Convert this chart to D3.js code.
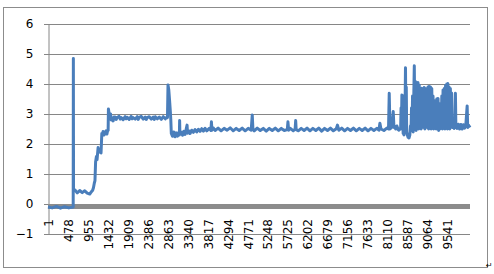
<!DOCTYPE html>
<html lang="en">
<head>
<meta charset="UTF-8">
<title>Line chart</title>
<script src="https://d3js.org/d3.v7.min.js"></script>
<style>
  body { margin: 0; background: #fff; }
  text { font-family: "DejaVu Sans", sans-serif; font-size: 12px; fill: #000; }
</style>
</head>
<body>
<script>
    var width = 494;
    var height = 274;

    // number of samples in the series
    var sampleCount = 10100;

    // category labels shown on the x axis
    var xTickLabels = [1, 478, 955, 1432, 1909, 2386, 2863, 3340, 3817, 4294, 4771,
        5248, 5725, 6202, 6679, 7156, 7633, 8110, 8587, 9064, 9541];
    var yTicks = [-1, 0, 1, 2, 3, 4, 5, 6];

    // [sample index, value]
    var warmup = [
        [1,-0.1],[100,-0.13],[200,-0.08],[300,-0.14],[400,-0.09],[500,-0.13],[604,-0.1],
        [608,4.85],[612,0.42],
        [650,0.46],[700,0.37],[760,0.45],[820,0.38],[880,0.44],[940,0.36],[1000,0.33],[1040,0.41],[1070,0.46],
        [1090,0.55],[1110,0.7],[1125,0.78],[1140,1.4],[1160,1.58],[1175,1.48],[1200,1.88],[1215,1.72],
        [1248,1.82],[1270,1.7],[1289,2.35],[1300,2.28],[1320,2.42],[1340,2.3],[1392,2.44],[1410,2.33],
        [1430,2.46],[1440,2.45],[1447,3.17],[1460,3.05],[1488,2.92],[1500,3.0],[1512,2.8],[1536,2.87],
        [1560,2.77],[1580,2.9]
    ];

    var plateau = [
        [1608,2.9],[1632,2.82],[1656,2.88],[1704,2.92],[1728,2.83],[1752,2.88],[1800,2.81],[1848,2.91],
        [1872,2.84],[1896,2.89],[1944,2.82],[1992,2.92],[2016,2.84],[2040,2.88],[2088,2.83],[2136,2.91],
        [2160,2.82],[2184,2.89],[2232,2.92],[2280,2.83],[2328,2.9],[2352,2.82],[2376,2.88],[2424,2.91],
        [2472,2.83],[2520,2.9],[2544,2.82],[2568,2.91],[2616,2.84],[2664,2.9],[2712,2.82],[2760,2.91],
        [2808,2.84],[2840,2.89],[2860,2.88],
        [2873,3.97],[2892,3.8],[2911,3.45],[2928,3.1],[2940,2.8],[2952,2.35]
    ];

    var settle = [
        [2980,2.26],[3010,2.4],[3040,2.24],[3070,2.37],[3100,2.26],[3130,2.38],[3145,2.3],[3151,2.78],
        [3158,2.32],[3190,2.4],[3220,2.29],[3250,2.42],[3280,2.32],[3329,2.63],[3340,2.36],[3370,2.44],
        [3400,2.35],[3440,2.46],[3480,2.39],[3520,2.48],[3560,2.4],[3600,2.49],[3640,2.42],[3680,2.51],
        [3720,2.43],[3760,2.52],[3800,2.44],[3860,2.52],[3900,2.45],[3912,2.74],[3925,2.46],[3960,2.53]
    ];

    var steady = [
        [4000,2.45],[4072,2.53],[4144,2.44],[4216,2.52],[4288,2.46],[4360,2.54],[4432,2.44],[4504,2.52],
        [4576,2.45],[4648,2.53],[4720,2.44],[4792,2.52],[4864,2.46],[4889,2.97],[4905,2.5],[4936,2.44],
        [5008,2.53],[5080,2.45],[5152,2.52],[5224,2.43],[5296,2.52],[5368,2.45],[5440,2.53],[5512,2.44],
        [5584,2.52],[5656,2.45],[5728,2.48],[5743,2.74],[5760,2.46],[5800,2.52],[5872,2.44],[5915,2.5],
        [5928,2.78],[5940,2.48],[5990,2.44],[6060,2.52],[6130,2.45],[6200,2.53],[6270,2.44],[6340,2.52],
        [6410,2.45],[6480,2.53],[6550,2.43],[6620,2.52],[6690,2.45],[6760,2.53],[6830,2.44],[6900,2.51],
        [6929,2.63],[6960,2.46],[7030,2.53],[7100,2.44],[7170,2.52],[7240,2.45],[7310,2.53],[7380,2.44],
        [7450,2.52],[7520,2.45],[7590,2.53],[7660,2.44],[7730,2.52],[7800,2.45],[7870,2.52],[7920,2.46],
        [7944,2.69],[7970,2.5],[8040,2.45],[8110,2.53],[8150,2.5],[8167,3.69],[8185,2.5],[8230,2.56],
        [8263,3.08],[8280,2.55]
    ];

    var burst = [
        [8290,2.6],[8320,2.5],[8350,2.6],[8380,2.48],[8400,2.46],[8430,2.52],[8440,2.5],[8450,3.2],
        [8460,2.6],[8470,3.63],[8480,2.5],[8490,3.4],[8500,2.35],[8510,3.6],[8520,2.3],[8545,3.0],
        [8556,4.54],[8566,2.9],[8575,3.9],[8585,2.4],[8600,2.3],[8620,2.22],[8640,2.2],[8660,2.3],
        [8675,2.6],[8690,2.5],[8700,3.2],[8712,2.45],[8725,3.6],[8740,2.4],[8767,4.61],[8780,2.5],
        [8795,4.08],[8810,2.45],[8825,4.0],[8840,2.6],[8855,4.05],[8870,2.5],[8885,3.97],[8900,2.55],
        [8915,3.8],[8930,2.5],[8945,3.86],[8960,2.6],[8975,3.82],[8990,2.55],[9005,3.88],[9020,2.5],
        [9035,3.8],[9050,2.6],[9065,3.85],[9080,2.55],[9095,3.9],[9110,2.5],[9125,3.92],[9140,2.58],
        [9155,3.9],[9170,2.5],[9185,3.85],[9200,2.55],[9215,3.6],[9230,2.5],[9245,3.45],[9260,2.55],
        [9275,3.37],[9290,2.5],[9305,3.5],[9320,2.6],[9335,3.52],[9350,2.45],[9365,3.35],[9380,2.5],
        [9395,3.3],[9410,2.55],[9425,3.6],[9440,2.5],[9455,3.8],[9470,2.55],[9485,3.85],[9500,2.5],
        [9515,3.95],[9530,2.55],[9545,4.0],[9560,2.5],[9570,4.02],[9585,2.6],[9600,3.9],[9615,2.5],
        [9630,3.85],[9645,2.6],[9660,3.7],[9675,2.55],[9690,2.6],[9720,2.52],[9740,2.64],[9751,3.69],
        [9762,2.6],[9790,2.52],[9820,2.66],[9850,2.5],[9880,2.65],[9910,2.5],[9940,2.64],[9970,2.53],
        [10000,2.63],[10032,3.27],[10045,2.55],[10070,2.62],[10100,2.55]
    ];

    var series = warmup.concat(plateau, settle, steady, burst);

    var plot = { left: 48, right: 470, top: 24, bottom: 234 };

    var svg = d3.select("body").append("svg")
        .attr("width", width)
        .attr("height", height);

    // chart frame
    svg.append("rect")
        .attr("x", 3.5).attr("y", 7.5)
        .attr("width", 484).attr("height", 260)
        .attr("fill", "#fff")
        .attr("stroke", "#8c8c8c");

    var x = d3.scaleLinear().domain([1, sampleCount]).range([plot.left, plot.right]);
    var y = d3.scaleLinear().domain([-1, 6]).range([plot.bottom, plot.top]);

    // horizontal gridlines
    svg.append("g")
        .selectAll("line")
        .data(yTicks)
        .enter().append("line")
        .attr("x1", plot.left - 4).attr("x2", plot.right)
        .attr("y1", function(d) { return Math.round(y(d)) + 0.5; })
        .attr("y2", function(d) { return Math.round(y(d)) + 0.5; })
        .attr("stroke", "#868686");

    // y axis
    var yAxis = svg.append("g")
        .attr("transform", "translate(" + (plot.left + 0.5) + ",0)")
        .call(d3.axisLeft(y).tickValues(yTicks).tickSize(4).tickPadding(11).tickFormat(d3.format("d")));
    yAxis.select(".domain").attr("stroke", "#868686");
    yAxis.selectAll(".tick line").attr("stroke", "#868686");
    yAxis.selectAll("text").style("font-family", "DejaVu Sans").style("font-size", "12px").attr("fill", "#000");

    // thick category axis at zero
    svg.append("line")
        .attr("x1", plot.left).attr("x2", plot.right)
        .attr("y1", y(0) + 2.5).attr("y2", y(0) + 2.5)
        .attr("stroke", "#8c8c8c")
        .attr("stroke-width", 5);

    // x labels, rotated
    svg.append("g")
        .selectAll("text")
        .data(xTickLabels)
        .enter().append("text")
        .attr("transform", function(d) { return "translate(" + (x(d) + 1) + ",219) rotate(-90)"; })
        .attr("text-anchor", "end")
        .attr("dy", "0.35em")
        .text(function(d) { return d; });

    // data line
    var line = d3.line()
        .x(function(d) { return x(d[0]); })
        .y(function(d) { return y(d[1]); });

    svg.append("path")
        .datum(series)
        .attr("d", line)
        .attr("fill", "none")
        .attr("stroke", "#4a7ebb")
        .attr("stroke-width", 3)
        .attr("stroke-linejoin", "round");

    // little paragraph mark at the corner
    svg.append("text")
        .attr("x", 486).attr("y", 268)
        .style("font-size", "8px")
        .attr("fill", "#888")
        .text("\u21b5");
</script>
</body>
</html>
